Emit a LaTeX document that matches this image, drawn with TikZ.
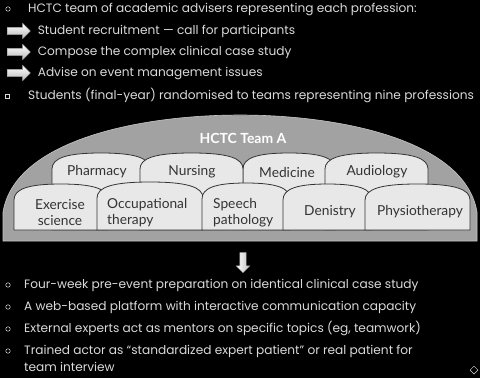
\documentclass[tikz,border=0pt]{standalone}
\usepackage{fontspec}
\setmainfont{Lato}
\newfontfamily\listfont{Poppins}
\usetikzlibrary{shapes.geometric, shapes.arrows, positioning}
\definecolor{domegray}{HTML}{A2A2A2}
\definecolor{tabgray}{HTML}{E8E8E8}
\definecolor{inkgray}{HTML}{333333}
\definecolor{listgray}{HTML}{DADADA}
\tikzstyle{listtext} = [anchor=west, text=listgray, font=\listfont\fontsize{12.2}{17}\selectfont, inner sep=0pt, text height=9bp, text depth=2.5bp]
\tikzstyle{bulletmark} = [circle, draw=listgray, line width=0.5pt, minimum size=4.5bp, inner sep=0pt]
\tikzstyle{squaremark} = [rectangle, draw=listgray, line width=0.5pt, minimum size=3.5bp, inner sep=0pt]
\tikzstyle{rightarrow} = [single arrow, draw=gray!70, top color=white, bottom color=gray!55, minimum height=23bp, inner xsep=0pt, inner ysep=3.5bp, single arrow head extend=4bp]
\tikzstyle{downarrow} = [single arrow, shape border rotate=270, draw=gray!70, left color=white, right color=gray!50, minimum height=20bp, inner xsep=3bp, inner ysep=0pt, single arrow head extend=3.5bp]
\tikzstyle{tabbox} = [fill=tabgray, draw=inkgray, line width=0.8pt]
\tikzstyle{tablabel} = [text=inkgray, font=\fontsize{13.8}{16}\selectfont, align=center, inner sep=0pt]
% one profession tab: left x, right x, top y
\newcommand{\proftab}[3]{%
  \filldraw[tabbox] (#1,230) -- (#1,#3+16)
    .. controls (#1,#3+5) and ({#1+0.15*(#2-#1)},#3) .. ({(#1+#2)/2},#3)
    .. controls ({#2-0.15*(#2-#1)},#3) and (#2,#3+5) .. (#2,#3+16)
    -- (#2,230) -- cycle;}

\begin{document}
\begin{tikzpicture}[x=1bp, y=-1bp]
    \fill[black] (0,0) rectangle (480,378);
    \useasboundingbox (0,0) rectangle (480,378);

    % advisers and their tasks
    \node (markAdvisers) [bulletmark] at (8,9) {};
    \node (advisers) [listtext] at (28,9) {HCTC team of academic advisers representing each profession:};
    \node (arrRecruit) [rightarrow] at (17,31) {};
    \node (recruit) [listtext, right=7bp of arrRecruit] {Student recruitment — call for participants};
    \node (arrCompose) [rightarrow] at (17,52) {};
    \node (compose) [listtext, right=7bp of arrCompose] {Compose the complex clinical case study};
    \node (arrAdvise) [rightarrow] at (17,73) {};
    \node (advise) [listtext, right=7bp of arrAdvise] {Advise on event management issues};
    \node (markStudents) [squaremark] at (7,96) {};
    \node (students) [listtext] at (28,96) {Students (final-year) randomised to teams representing nine professions};

    % team dome
    \filldraw[fill=domegray, draw=gray!45, line width=0.6pt] (3,241) -- (3,212)
        .. controls (15,140) and (140,115) .. (240,115)
        .. controls (340,115) and (465,140) .. (477,212) -- (477,241) -- cycle;
    \draw[gray!80, line width=1pt] (232,115.5) -- (249,115.5);
    \node (team) [text=white, font=\bfseries\fontsize{14}{16}\selectfont] at (243,138) {HCTC Team A};

    % back row
    \proftab{52}{150}{153}
    \proftab{243}{335}{153}
    \proftab{140}{243}{153}
    \proftab{325}{428}{153}
    \node (pharmacy) [tablabel] at (97,172) {Pharmacy};
    \node (nursing) [tablabel] at (192,172) {Nursing};
    \node (medicine) [tablabel] at (287,172) {Medicine};
    \node (audiology) [tablabel] at (377,172) {Audiology};

    % front row
    \proftab{14}{108}{184}
    \proftab{97}{203}{182}
    \proftab{202}{290}{183}
    \proftab{283}{372}{184}
    \proftab{365}{470}{184}
    \node (exercise) [tablabel] at (60,212.5) {Exercise\\science};
    \node (occupational) [tablabel, align=left, anchor=west] at (107,212.5) {Occupational\\therapy};
    \node (speech) [tablabel, align=left, anchor=west] at (213,212.5) {Speech\\pathology};
    \node (denistry) [tablabel] at (330,212) {Denistry};
    \node (physio) [tablabel] at (420,212) {Physiotherapy};

    \node (arrDown) [downarrow] at (243,261) {};

    % event features
    \node (markPrep) [bulletmark] at (8,285) {};
    \node (prep) [listtext] at (24,285) {Four-week pre-event preparation on identical clinical case study};
    \node (markWeb) [bulletmark] at (8,307) {};
    \node (web) [listtext] at (24,307) {A web-based platform with interactive communication capacity};
    \node (markMentors) [bulletmark] at (8,329) {};
    \node (mentors) [listtext] at (24,329) {External experts act as mentors on specific topics (eg, teamwork)};
    \node (markActor) [bulletmark] at (8,351) {};
    \node (actor) [listtext] at (24,351) {Trained actor as “standardized expert patient” or real patient for};
    \node (interview) [listtext, below=5.5bp of actor.south west, anchor=north west] {team interview};

    \node (endMark) [diamond, draw=listgray, line width=0.5pt, minimum size=8bp, inner sep=0pt] at (474,370) {};
\end{tikzpicture}
\end{document}
